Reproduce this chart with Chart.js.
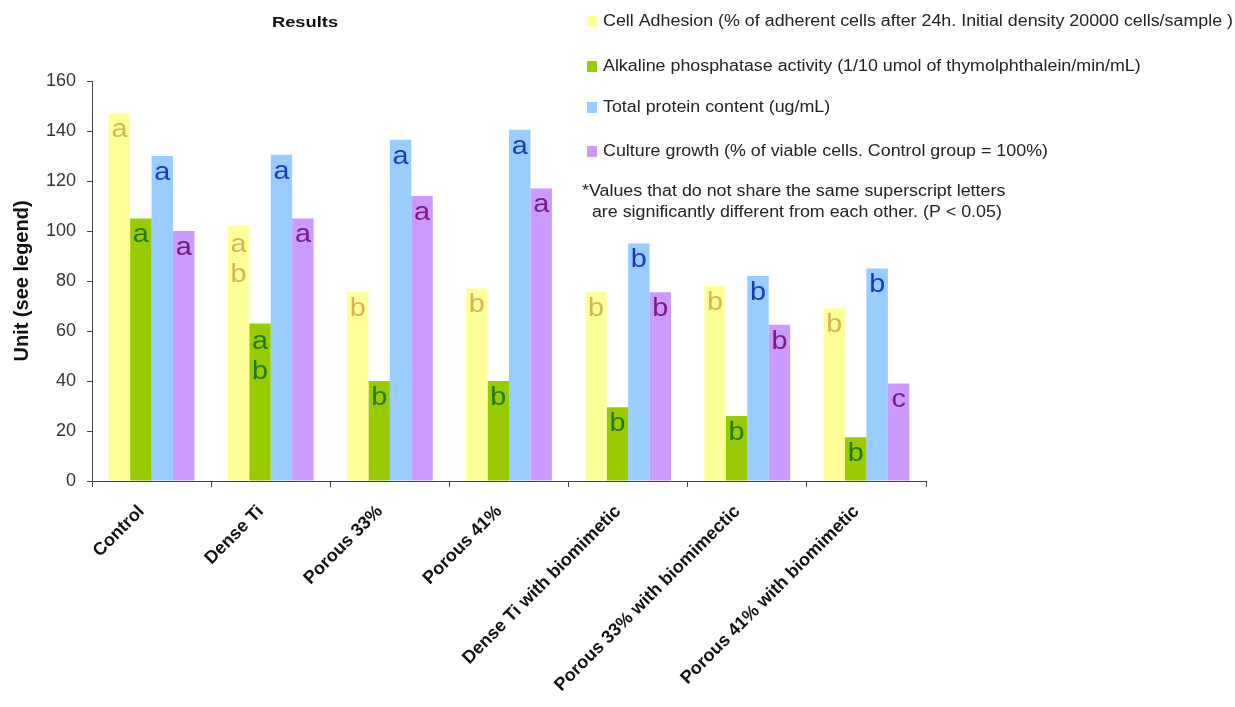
<!DOCTYPE html>
<html>
<head>
<meta charset="utf-8">
<script src="https://cdn.jsdelivr.net/npm/chart.js@4/dist/chart.umd.min.js"></script>
<style>
html, body { margin: 0; padding: 0; background: #fff; }
#wrap { width: 1235px; height: 707px; }
</style>
</head>
<body>
<div id="wrap"><canvas id="myChart"></canvas></div>
<script>
var groups = ['Control', 'Dense Ti', 'Porous 33%', 'Porous 41%', 'Dense Ti with biomimetic', 'Porous 33% with biomimectic', 'Porous 41% with biomimetic'];
var adhesion = [147, 102, 75.5, 77, 75.5, 78, 69];
var alkaline = [105, 63, 40, 40, 29.5, 26, 17.5];
var protein = [130, 130.5, 136.5, 140.5, 95, 82, 85];
var growth = [100, 105, 114, 117, 75.5, 62.5, 39];

var adhesionLetters = ['a', 'a b', 'b', 'b', 'b', 'b', 'b'];
var alkalineLetters = ['a', 'a b', 'b', 'b', 'b', 'b', 'b'];
var proteinLetters = ['a', 'a', 'a', 'a', 'b', 'b', 'b'];
var growthLetters = ['a', 'a', 'a', 'a', 'b', 'b', 'c'];

var legendLabels = [
    'Cell Adhesion (% of adherent cells after 24h. Initial density 20000 cells/sample )',
    'Alkaline phosphatase activity (1/10 umol of thymolphthalein/min/mL)',
    'Total protein content (ug/mL)',
    'Culture growth (% of viable cells. Control group = 100%)'
];
var noteLines = [
    '*Values that do not share the same superscript letters',
    '  are significantly different from each other. (P < 0.05)'
];

var barColors = ['#ffff99', '#99cc00', '#99ccff', '#cc99ff'];
var letterColors = ['#d4b456', '#1f7a1f', '#1c3bb4', '#7a1a7a'];
var letterSets = [adhesionLetters, alkalineLetters, proteinLetters, growthLetters];
var fontFamily = 'Arial, "Liberation Sans", sans-serif';

// the source picture is a bit wider than tall, so the plain texts get a small x stretch
function stretchText(ctx, text, x, y, sx) {
    ctx.save();
    ctx.translate(x, y);
    ctx.scale(sx, 1);
    ctx.fillText(text, 0, 0);
    ctx.restore();
}

// letters inside the bars
var letterPlugin = {
    id: 'letters',
    afterDatasetsDraw: function (chart) {
        var ctx = chart.ctx;
        ctx.save();
        ctx.font = '25px ' + fontFamily;
        ctx.textAlign = 'center';
        ctx.textBaseline = 'middle';
        chart.data.datasets.forEach(function (ds, d) {
            var meta = chart.getDatasetMeta(d);
            meta.data.forEach(function (bar, i) {
                var parts = letterSets[d][i].split(' ');
                ctx.fillStyle = letterColors[d];
                for (var k = 0; k < parts.length; k++) {
                    var off = parts.length > 1 ? 19 + k * 30 : 17;
                    stretchText(ctx, parts[k], bar.x, bar.y + off, 1.15);
                }
            });
        });
        ctx.restore();
    }
};

// title and legend block at the top right
var legendPlugin = {
    id: 'sideLegend',
    afterDraw: function (chart) {
        var ctx = chart.ctx;
        ctx.save();
        ctx.fillStyle = '#111';
        ctx.font = 'bold 15px ' + fontFamily;
        ctx.textAlign = 'center';
        ctx.textBaseline = 'middle';
        stretchText(ctx, 'Results', 305, 23, 1.22);

        ctx.font = '16px ' + fontFamily;
        ctx.textAlign = 'left';
        var sx = 630 / ctx.measureText(legendLabels[0]).width;
        var rows = [22, 67, 108, 152];
        for (var i = 0; i < legendLabels.length; i++) {
            ctx.fillStyle = barColors[i];
            ctx.fillRect(587, rows[i] - 6, 10, 11);
            ctx.fillStyle = '#222';
            stretchText(ctx, legendLabels[i], 603, rows[i], sx);
        }
        stretchText(ctx, noteLines[0], 582, 192, sx);
        stretchText(ctx, noteLines[1], 582, 213, sx);
        ctx.restore();
    }
};

var ctx = document.getElementById('myChart');
var myChart = new Chart(ctx, {
    type: 'bar',
    data: {
        labels: groups,
        datasets: [
            { label: legendLabels[0], data: adhesion, backgroundColor: barColors[0] },
            { label: legendLabels[1], data: alkaline, backgroundColor: barColors[1] },
            { label: legendLabels[2], data: protein, backgroundColor: barColors[2] },
            { label: legendLabels[3], data: growth, backgroundColor: barColors[3] }
        ]
    },
    options: {
        responsive: true,
        maintainAspectRatio: false,
        animation: false,
        datasets: {
            bar: { categoryPercentage: 0.72, barPercentage: 1, borderWidth: 0 }
        },
        layout: { padding: { top: 81, right: 309, left: 0, bottom: 0 } },
        plugins: {
            legend: { display: false },
            tooltip: { enabled: false }
        },
        scales: {
            x: {
                grid: { display: true, drawOnChartArea: false, tickLength: 6, color: '#444', offset: true },
                border: { color: '#444', width: 1 },
                ticks: {
                    color: '#111',
                    font: { family: fontFamily, size: 18, weight: 'bold' },
                    minRotation: 45,
                    maxRotation: 45,
                    autoSkip: false,
                    padding: 14,
                    labelOffset: -10
                },
                afterFit: function (scale) { scale.height = 226; }
            },
            y: {
                min: 0,
                max: 160,
                grid: { display: true, drawOnChartArea: false, tickLength: 5, color: '#444' },
                border: { color: '#444', width: 1 },
                ticks: {
                    stepSize: 20,
                    padding: 11,
                    color: '#333',
                    font: { family: fontFamily, size: 18 }
                },
                title: {
                    display: true,
                    text: 'Unit (see legend)',
                    color: '#111',
                    font: { family: fontFamily, size: 20, weight: 'bold' },
                    padding: { top: 10, bottom: 4 }
                },
                afterFit: function (scale) { scale.width = 92; }
            }
        }
    },
    plugins: [letterPlugin, legendPlugin]
});
</script>
</body>
</html>
